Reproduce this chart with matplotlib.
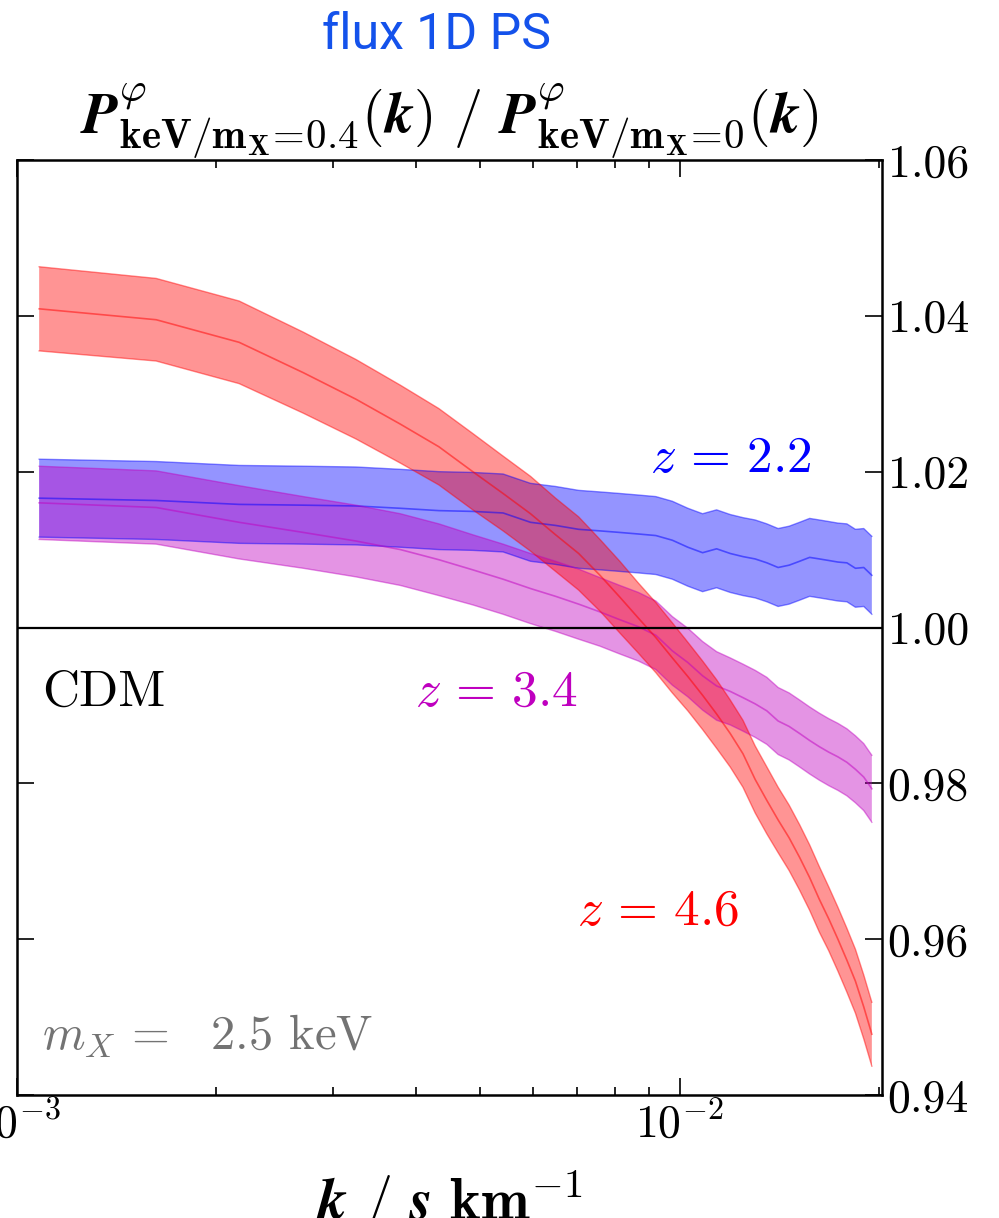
import numpy as np
import matplotlib
matplotlib.use("Agg")
import matplotlib.pyplot as plt

plt.rcParams['mathtext.fontset'] = 'cm'
plt.rcParams['font.family'] = 'serif'
plt.rcParams['font.serif'] = ['cmr10']
plt.rcParams['axes.formatter.use_mathtext'] = True

# k values (s/km)
k_vals = [0.00108, 0.001622, 0.002164, 0.002705, 0.003247, 0.003789, 0.004331,
          0.004873, 0.005414, 0.005956, 0.006498, 0.00704, 0.007582, 0.008123,
          0.008665, 0.009207, 0.009749, 0.01029, 0.01083, 0.01137, 0.01192,
          0.01246, 0.0130, 0.01354, 0.01408, 0.01463, 0.01517, 0.01571, 0.01625,
          0.01679, 0.01733, 0.01788, 0.01842, 0.01896, 0.0195]

# z = 2.2 (blue)
ratio_z22 = [1.0166, 1.0163, 1.0158, 1.0157, 1.0156, 1.0153, 1.0150, 1.0149,
             1.0147, 1.0135, 1.0131, 1.0126, 1.0124, 1.0122, 1.0120, 1.0118,
             1.0112, 1.0103, 1.0096, 1.0101, 1.0095, 1.0091, 1.0088, 1.0083,
             1.0077, 1.0080, 1.0085, 1.0090, 1.0088, 1.0086, 1.0084, 1.0083,
             1.0076, 1.0077, 1.0067]
err_z22 = [0.0050] * 35

# z = 3.4 (magenta)
ratio_z34 = [1.0160, 1.0154, 1.0135, 1.0122, 1.0111, 1.0100, 1.0087, 1.0074,
             1.0062, 1.0050, 1.0040, 1.0030, 1.0020, 1.0010, 1.0001, 0.9990,
             0.9970, 0.9955, 0.9938, 0.9925, 0.9918, 0.9910, 0.9902, 0.9893,
             0.9880, 0.9873, 0.9864, 0.9855, 0.9847, 0.9840, 0.9834, 0.9827,
             0.9818, 0.9808, 0.9793]
err_z34 = [0.0047, 0.0047, 0.0047, 0.0046, 0.0046, 0.0046, 0.0046, 0.0045,
           0.0045, 0.0045, 0.0045, 0.0045, 0.0044, 0.0044, 0.0044, 0.0044,
           0.0044, 0.0044, 0.0044, 0.0044, 0.0043, 0.0043, 0.0043, 0.0043,
           0.0043, 0.0043, 0.0043, 0.0043, 0.0043, 0.0043, 0.0043, 0.0043,
           0.0043, 0.0043, 0.0043]

# z = 4.6 (red)
ratio_z46 = [1.0409, 1.0395, 1.0366, 1.0327, 1.0293, 1.0261, 1.0232, 1.0200,
             1.0172, 1.0146, 1.0119, 1.0095, 1.0067, 1.0039, 1.0012, 0.9987,
             0.9961, 0.9937, 0.9913, 0.9889, 0.9864, 0.9838, 0.9805, 0.9778,
             0.9753, 0.9730, 0.9705, 0.9679, 0.9651, 0.9626, 0.9600, 0.9573,
             0.9546, 0.9513, 0.9478]
err_z46 = [0.0054, 0.0053, 0.0053, 0.0052, 0.0051, 0.0050, 0.0049, 0.0049,
           0.0048, 0.0048, 0.0047, 0.0047, 0.0046, 0.0046, 0.0045, 0.0045,
           0.0045, 0.0044, 0.0044, 0.0044, 0.0043, 0.0043, 0.0043, 0.0043,
           0.0042, 0.0042, 0.0042, 0.0042, 0.0042, 0.0041, 0.0041, 0.0041,
           0.0041, 0.0041, 0.0041]

y_ticks = [0.94, 0.96, 0.98, 1.00, 1.02, 1.04, 1.06]
y_ticklabels = ['0.94', '0.96', '0.98', '1.00', '1.02', '1.04', '1.06']

fig = plt.figure(figsize=(9.99, 12.18), dpi=100)
ax = fig.add_axes([17/999, 1 - 1095/1218, (882-17)/999, (1095-160)/1218])

k = np.array(k_vals)
series = [
    (ratio_z22, err_z22, (0.0, 0.0, 1.0)),
    (ratio_z34, err_z34, (0.75, 0.0, 0.75)),
    (ratio_z46, err_z46, (1.0, 0.0, 0.0)),
]
for r, e, c in series:
    r = np.array(r)
    e = np.array(e)
    ax.fill_between(k, r - e, r + e, facecolor=c, alpha=0.42, edgecolor='none', zorder=2)
    ax.plot(k, r - e, color=c, lw=1.0, alpha=0.45, zorder=3)
    ax.plot(k, r + e, color=c, lw=1.0, alpha=0.45, zorder=3)
    ax.plot(k, r, color=c, lw=1.2, alpha=0.5, zorder=3)

ax.axhline(1.0, color='black', lw=1.6, zorder=4)

ax.set_xscale('log')
ax.set_xlim(1e-3, 0.0202)
ax.set_ylim(0.94, 1.06)
ax.set_yticks(y_ticks)
ax.set_yticklabels(y_ticklabels)

ax.tick_params(which='both', direction='in', top=True, bottom=True, left=True, right=True,
               labelleft=False, labelright=True, labelsize=33, width=1.2)
ax.tick_params(which='major', length=12, pad=4)
ax.tick_params(which='minor', length=6)
for s in ax.spines.values():
    s.set_linewidth(1.8)

title = (r'$\boldsymbol{P}^{\boldsymbol{\varphi}}_{\mathbf{keV/m}_{\mathbf{X}}\!\mathbf{=}\!\boldsymbol{0.4}}'
         r'\mathbf{(}\boldsymbol{k}\mathbf{)}\ \mathbf{/}\ '
         r'\boldsymbol{P}^{\boldsymbol{\varphi}}_{\mathbf{keV/m}_{\mathbf{X}}\!\mathbf{=}\!\boldsymbol{0}}'
         r'\mathbf{(}\boldsymbol{k}\mathbf{)}$')
ax.set_title(title, fontsize=42, pad=8)
ax.set_xlabel(r'$\boldsymbol{k}\ \mathbf{/}\ \boldsymbol{s}\ \mathbf{km}^{\mathbf{-1}}$',
              fontsize=42, labelpad=16)

fs = 37
ax.text(0.00901, 1.0199, r'$z\,=\,2.2$', color=(0.0, 0.0, 1.0), fontsize=fs, va='baseline', ha='left')
ax.text(0.00398, 0.9900, r'$z\,=\,3.4$', color=(0.75, 0.0, 0.75), fontsize=fs, va='baseline', ha='left')
ax.text(0.00699, 0.9618, r'$z\,=\,4.6$', color=(1.0, 0.0, 0.0), fontsize=fs, va='baseline', ha='left')
ax.text(0.00109, 0.9900, 'CDM', color='black', fontsize=fs, va='baseline', ha='left')
ax.text(0.00109, 0.9460, r'$m_X\,=$  2.5 keV', color='0.45', fontsize=35, va='baseline', ha='left')

fig.text(437/999, 1 - 35/1218, 'flux 1D PS', color=(0.08, 0.32, 0.92), fontsize=36,
         family='Roboto', ha='center', va='center')

fig.savefig('out.png', dpi=100)
